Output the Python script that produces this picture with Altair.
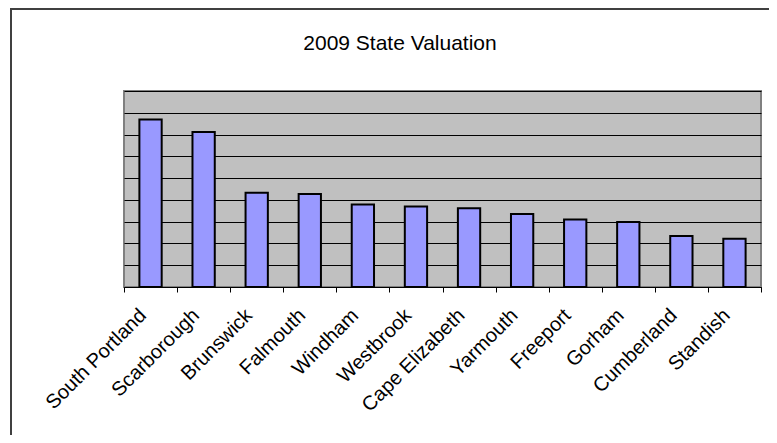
import altair as alt
import pandas as pd

towns = ["South Portland", "Scarborough", "Brunswick", "Falmouth", "Windham",
         "Westbrook", "Cape Elizabeth", "Yarmouth", "Freeport", "Gorham",
         "Cumberland", "Standish"]
valuation = [7.69, 7.12, 4.33, 4.27, 3.79, 3.70, 3.62, 3.35, 3.10, 2.98, 2.34, 2.22]
grid_values = list(range(10))
title_text = "2009 State Valuation"

df = pd.DataFrame({"town": towns, "valuation": valuation})

W, H = 637, 196
FONT = "Liberation Sans"

bars = alt.Chart(df).mark_bar(
    color="#9999FF", stroke="black", strokeWidth=2,
    width=alt.RelativeBandSize(0.42),
).encode(
    x=alt.X("town:N", sort=towns,
            scale=alt.Scale(paddingInner=0, paddingOuter=0),
            axis=alt.Axis(title=None, labelAngle=-45, labelAlign="right",
                          labelBaseline="middle", labelFontSize=20, labelFont=FONT,
                          labelColor="black", labelPadding=20, labelOffset=-8,
                          tickBand="extent", tickColor="black", tickSize=5,
                          domainColor="black", domainWidth=1, grid=False)),
    y=alt.Y("valuation:Q", scale=alt.Scale(domain=[0, 9], nice=False),
            axis=alt.Axis(title=None, labels=False, ticks=False, domain=False,
                          values=grid_values, gridColor="black", gridWidth=1,
                          gridOpacity=1)),
)

single = pd.DataFrame({"k": [0]})

border = alt.Chart(single).mark_rect(
    fillOpacity=0, stroke="#404040", strokeWidth=2
).encode(
    x=alt.value(-113), x2=alt.value(W + 100),
    y=alt.value(-82), y2=alt.value(H + 300),
)

title = alt.Chart(single).mark_text(
    fontSize=21, font=FONT, color="black", align="center", baseline="alphabetic"
).encode(
    x=alt.value(276), y=alt.value(-41), text=alt.value(title_text),
)

chart = alt.layer(bars, border, title).properties(
    width=W, height=H,
    autosize=alt.AutoSizeParams(type="none"),
    padding={"left": 116, "top": 83, "right": 8, "bottom": 148},
).configure_view(
    fill="#C0C0C0", stroke="#808080", strokeWidth=2
)

chart.save("out.html", embed_options={"renderer": "svg", "actions": False})
